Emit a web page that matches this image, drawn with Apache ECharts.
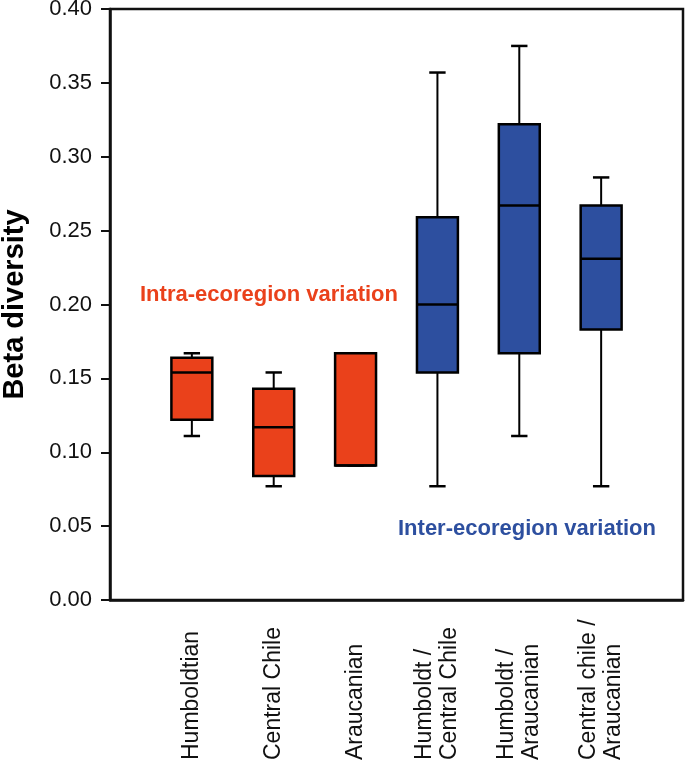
<!DOCTYPE html>
<html>
<head>
<meta charset="utf-8">
<script src="https://cdn.jsdelivr.net/npm/echarts@6/dist/echarts.min.js"></script>
<style>
  html, body { margin: 0; padding: 0; background: #fff; }
  #chart { width: 685px; height: 761px; }
</style>
</head>
<body>
<div id="chart"></div>
<script>
// ---- data ----
const categories = ['Humboldtian', 'Central Chile', 'Araucanian',
  'Humboldt /\nCentral Chile', 'Humboldt /\nAraucanian', 'Central chile /\nAraucanian'];
const groupOf = ['intra', 'intra', 'intra', 'inter', 'inter', 'inter'];
const minVals = [0.111, 0.077, 0.091, 0.077, 0.111, 0.077];
const q1Vals  = [0.122, 0.084, 0.091, 0.154, 0.167, 0.183];
const medVals = [0.154, 0.117, 0.091, 0.200, 0.267, 0.231];
const q3Vals  = [0.164, 0.143, 0.167, 0.259, 0.322, 0.267];
const maxVals = [0.167, 0.154, 0.167, 0.357, 0.375, 0.286];
const yTicks = [0, 0.05, 0.10, 0.15, 0.20, 0.25, 0.30, 0.35, 0.40];

const RED = '#EA411B';
const BLUE = '#2D4F9F';
const FONT = '"Liberation Sans", Arial, Helvetica, sans-serif';

// axis categories padded with empty slots at both ends
const axisCats = [''].concat(categories, ['']);

function buildData(group) {
  const out = [];
  categories.forEach((c, i) => {
    if (groupOf[i] === group) {
      out.push([i + 1, minVals[i], q1Vals[i], medVals[i], q3Vals[i], maxVals[i]]);
    }
  });
  return out;
}

function renderBox(color) {
  return function (params, api) {
    const x = api.value(0);
    const pMin = api.coord([x, api.value(1)]);
    const pQ1 = api.coord([x, api.value(2)]);
    const pMed = api.coord([x, api.value(3)]);
    const pQ3 = api.coord([x, api.value(4)]);
    const pMax = api.coord([x, api.value(5)]);
    const band = api.size([1, 0])[0];
    const bw = band * 0.5;
    const cw = band * 0.2;
    const cx = pQ1[0];
    const lineStyle = { stroke: '#000', lineWidth: 2 };
    return {
      type: 'group',
      children: [
        { type: 'line', shape: { x1: cx, y1: pQ3[1], x2: cx, y2: pMax[1] }, style: lineStyle },
        { type: 'line', shape: { x1: cx, y1: pQ1[1], x2: cx, y2: pMin[1] }, style: lineStyle },
        { type: 'line', shape: { x1: cx - cw / 2, y1: pMax[1], x2: cx + cw / 2, y2: pMax[1] }, style: { stroke: '#000', lineWidth: 2.5 } },
        { type: 'line', shape: { x1: cx - cw / 2, y1: pMin[1], x2: cx + cw / 2, y2: pMin[1] }, style: { stroke: '#000', lineWidth: 2.5 } },
        { type: 'rect', shape: { x: cx - bw / 2, y: pQ3[1], width: bw, height: pQ1[1] - pQ3[1] },
          style: { fill: color, stroke: '#000', lineWidth: 2.5 } },
        { type: 'line', shape: { x1: cx - bw / 2, y1: pMed[1], x2: cx + bw / 2, y2: pMed[1] }, style: { stroke: '#000', lineWidth: 2.5 } }
      ]
    };
  };
}

const chart = echarts.init(document.getElementById('chart'), null, { renderer: 'canvas' });
chart.setOption({
  backgroundColor: '#fff',
  animation: false,
  grid: {
    left: 110, top: 9, right: 2, bottom: 161,
    containLabel: false,
    outerBoundsMode: 'none',
    show: true, borderColor: '#111', borderWidth: 2.5, backgroundColor: 'transparent'
  },
  xAxis: {
    type: 'category',
    data: axisCats,
    boundaryGap: false,
    axisLine: { lineStyle: { color: '#111', width: 2.5 } },
    axisTick: { show: false },
    splitLine: { show: false },
    axisLabel: {
      interval: 0,
      rotate: 90,
      align: 'left',
      verticalAlign: 'middle',
      margin: 160,
      fontFamily: FONT,
      fontSize: 23,
      lineHeight: 25,
      color: '#111'
    }
  },
  yAxis: {
    type: 'value',
    min: 0, max: 0.40, interval: 0.05,
    name: 'Beta diversity',
    nameLocation: 'middle',
    nameRotate: 90,
    nameGap: 81,
    nameTextStyle: { fontFamily: FONT, fontSize: 29, fontWeight: 'bold', color: '#000' },
    axisLine: { show: true, lineStyle: { color: '#111', width: 2.5 } },
    axisTick: { show: true, inside: false, length: 9, lineStyle: { color: '#111', width: 2 } },
    splitLine: { show: false },
    axisLabel: {
      margin: 18,
      fontFamily: FONT,
      fontSize: 22,
      color: '#111',
      formatter: function (v) {
        const t = yTicks.find(tt => Math.abs(tt - v) < 1e-9);
        return (t !== undefined ? t : v).toFixed(2);
      }
    }
  },
  graphic: [
    { type: 'text', left: 140, top: 284,
      style: { text: 'Intra-ecoregion variation', fill: RED, font: 'bold 22px ' + FONT } },
    { type: 'text', left: 398, top: 518,
      style: { text: 'Inter-ecoregion variation', fill: BLUE, font: 'bold 22px ' + FONT } }
  ],
  series: [
    { name: 'Intra-ecoregion', type: 'custom', renderItem: renderBox(RED), data: buildData('intra'),
      encode: { x: 0, y: [1, 2, 3, 4, 5] } },
    { name: 'Inter-ecoregion', type: 'custom', renderItem: renderBox(BLUE), data: buildData('inter'),
      encode: { x: 0, y: [1, 2, 3, 4, 5] } }
  ]
});
</script>
</body>
</html>
